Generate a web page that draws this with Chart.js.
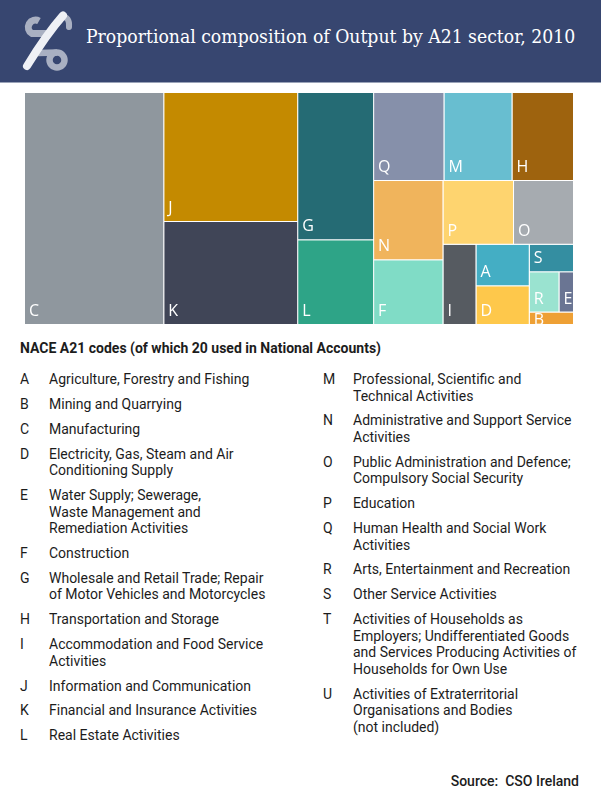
<!DOCTYPE html>
<html>
<head>
<meta charset="utf-8">
<script src="https://cdn.jsdelivr.net/npm/chart.js@4.4.1/dist/chart.umd.min.js"></script>
<style>
    body { margin: 0; width: 601px; height: 800px; background: #fff; font-family: Roboto, sans-serif; color: #1c1c1c; position: relative; overflow: hidden; }
    .header { position: absolute; left: 0; top: 0; width: 601px; height: 82px; background: #374670; border-bottom: 1px solid #9aa3b8; }
    .header svg { position: absolute; left: 0; top: 0; }
    .title { position: absolute; left: 86px; top: 26px; font-family: "DejaVu Serif", serif; font-stretch: condensed; font-size: 19.2px; line-height: 22px; color: #fff; white-space: nowrap; }
    .treemap { position: absolute; left: 25px; top: 93px; width: 549px; height: 232px; }
    .heading { position: absolute; left: 20px; top: 340px; font-size: 14px; font-weight: bold; line-height: 16.5px; }
    .col { position: absolute; top: 371px; font-size: 14px; line-height: 16.5px; }
    .item { display: flex; margin-bottom: 8.4px; }
    .code { flex: none; }
    .source { position: absolute; right: 22px; top: 773px; font-size: 14px; font-weight: 500; line-height: 16.5px; white-space: pre; }
</style>
</head>
<body>
<div class="header">
    <svg width="90" height="82" viewBox="0 0 90 82">
        <path d="M39 21 A6.5 6.5 0 1 0 32 33.5 L50 33.5" stroke="#a9b0c2" stroke-width="7" fill="none"/>
        <path d="M62 16.5 Q70 17 69 27" stroke="#a9b0c2" stroke-width="6" stroke-linecap="round" fill="none"/>
        <path d="M38 53 L57 52.5" stroke="#a9b0c2" stroke-width="6.5" fill="none"/>
        <circle cx="57" cy="60" r="7.5" stroke="#a9b0c2" stroke-width="6.5" fill="none"/>
        <path d="M63 15.5 C 52 28, 38 48, 27 66" stroke="#eef0f5" stroke-width="8" stroke-linecap="round" fill="none"/>
    </svg>
    <div class="title">Proportional composition of Output by A21 sector, 2010</div>
</div>
<div class="treemap"><canvas id="treemapChart"></canvas></div>
<div class="heading">NACE A21 codes (of which 20 used in National Accounts)</div>
<div class="col" id="legendLeft" style="left: 20px; width: 280px;"></div>
<div class="col" id="legendRight" style="left: 323px; width: 260px;"></div>
<div class="source">Source:  CSO Ireland</div>

<script>
// share of total output, %
const sectorCodes = ['C', 'J', 'K', 'G', 'L', 'Q', 'M', 'H', 'N', 'F', 'P', 'O', 'I', 'A', 'D', 'S', 'R', 'E', 'B'];
const outputShares = [25.36, 13.56, 10.83, 8.78, 5.05, 4.86, 4.70, 4.25, 4.32, 3.52, 3.53, 3.00, 2.08, 1.74, 1.62, 0.96, 0.94, 0.46, 0.43];
const sectorColours = ['#8f979e', '#c48a00', '#404557', '#256b74', '#2ea487', '#8690aa', '#68bed0', '#9e630e',
    '#f0b45c', '#80dcc6', '#fed46f', '#a6abb0', '#565b61', '#44aec4', '#fec84b', '#348ea1', '#9ae3d0', '#6a7593', '#eea035'];

// how the cells are grouped into strips, in drawing order
const strips = [['C'], ['J', 'K'], ['G', 'L'], ['Q', 'M', 'H'], ['N', 'F'], ['P', 'O'], ['I'], ['A', 'D'], ['S'], ['R', 'E'], ['B']];

const legendCodes = ['A', 'B', 'C', 'D', 'E', 'F', 'G', 'H', 'I', 'J', 'K', 'L',
    'M', 'N', 'O', 'P', 'Q', 'R', 'S', 'T', 'U'];
const legendNames = [
    ['Agriculture, Forestry and Fishing'],
    ['Mining and Quarrying'],
    ['Manufacturing'],
    ['Electricity, Gas, Steam and Air', 'Conditioning Supply'],
    ['Water Supply; Sewerage,', 'Waste Management and', 'Remediation Activities'],
    ['Construction'],
    ['Wholesale and Retail Trade; Repair', 'of Motor Vehicles and Motorcycles'],
    ['Transportation and Storage'],
    ['Accommodation and Food Service', 'Activities'],
    ['Information and Communication'],
    ['Financial and Insurance Activities'],
    ['Real Estate Activities'],
    ['Professional, Scientific and', 'Technical Activities'],
    ['Administrative and Support Service', 'Activities'],
    ['Public Administration and Defence;', 'Compulsory Social Security'],
    ['Education'],
    ['Human Health and Social Work', 'Activities'],
    ['Arts, Entertainment and Recreation'],
    ['Other Service Activities'],
    ['Activities of Households as', 'Employers; Undifferentiated Goods', 'and Services Producing Activities of', 'Households for Own Use'],
    ['Activities of Extraterritorial', 'Organisations and Bodies', '(not included)']
];

// Split the scale range into strips; a strip runs across the top when the
// remaining space is taller than wide, otherwise down the left side
function layoutStrips(labels, values, xScale, yScale) {
    let x0 = xScale.min, x1 = xScale.max, y0 = yScale.min, y1 = yScale.max;
    let remaining = values.reduce((a, b) => a + b, 0);
    const boxes = [];
    strips.forEach(function(strip) {
        const idx = strip.map(code => labels.indexOf(code));
        const sum = idx.reduce((a, i) => a + values[i], 0);
        const pxW = Math.abs(xScale.getPixelForValue(x1) - xScale.getPixelForValue(x0));
        const pxH = Math.abs(yScale.getPixelForValue(y1) - yScale.getPixelForValue(y0));
        if (pxW < pxH) {
            const yEnd = y0 + (y1 - y0) * sum / remaining;
            let cx = x0;
            idx.forEach(function(i) {
                const cw = (x1 - x0) * values[i] / sum;
                boxes[i] = { x0: cx, x1: cx + cw, y0: y0, y1: yEnd };
                cx += cw;
            });
            y0 = yEnd;
        } else {
            const xEnd = x0 + (x1 - x0) * sum / remaining;
            let cy = y0;
            idx.forEach(function(i) {
                const ch = (y1 - y0) * values[i] / sum;
                boxes[i] = { x0: x0, x1: xEnd, y0: cy, y1: cy + ch };
                cy += ch;
            });
            x0 = xEnd;
        }
        remaining -= sum;
    });
    return boxes;
}

class TreemapController extends Chart.DatasetController {
    static id = 'treemap';
    static defaults = {
        datasetElementType: false,
        dataElementType: 'bar'
    };
    static overrides = {
        scales: {
            x: { type: 'linear', display: false },
            y: { type: 'linear', display: false }
        }
    };

    update(mode) {
        const meta = this._cachedMeta;
        this.updateElements(meta.data, 0, meta.data.length, mode);
    }

    updateElements(cells, start, count, mode) {
        const xScale = this._cachedMeta.xScale;
        const yScale = this._cachedMeta.yScale;
        const values = this.getDataset().data;
        const boxes = layoutStrips(this.chart.data.labels, values, xScale, yScale);
        for (let i = start; i < start + count; i++) {
            const b = boxes[i];
            const left = xScale.getPixelForValue(b.x0);
            const right = xScale.getPixelForValue(b.x1);
            const top = yScale.getPixelForValue(b.y0);
            const bottom = yScale.getPixelForValue(b.y1);
            this.updateElement(cells[i], i, {
                x: (left + right) / 2,
                y: top,
                base: bottom,
                width: right - left,
                height: bottom - top,
                horizontal: false,
                inflateAmount: 0,
                borderSkipped: { top: true, left: true, bottom: false, right: false },
                options: this.resolveDataElementOptions(i, mode)
            }, mode);
        }
    }
}
Chart.register(TreemapController);

// Code letter in the bottom-left corner of every cell
const cellLabels = {
    id: 'cellLabels',
    afterDatasetsDraw(chart) {
        const ctx = chart.ctx;
        const meta = chart.getDatasetMeta(0);
        ctx.save();
        ctx.font = '16px "Open Sans"';
        ctx.fillStyle = '#ffffff';
        ctx.textBaseline = 'alphabetic';
        meta.data.forEach(function(cell, i) {
            const left = cell.x - cell.width / 2;
            const top = cell.y;
            const bottom = cell.base;
            ctx.save();
            ctx.beginPath();
            ctx.rect(left, top, cell.width - 1, bottom - top - 1);
            ctx.clip();
            const baseline = Math.max(bottom - 9, top + 12.5);
            ctx.fillText(chart.data.labels[i], left + 4, baseline);
            ctx.restore();
        });
        ctx.restore();
    }
};

new Chart(document.getElementById('treemapChart'), {
    type: 'treemap',
    data: {
        labels: sectorCodes,
        datasets: [{
            data: outputShares,
            backgroundColor: sectorColours,
            borderColor: '#ffffff',
            borderWidth: 1
        }]
    },
    options: {
        responsive: true,
        maintainAspectRatio: false,
        animation: false,
        events: [],
        layout: { padding: 0 },
        scales: {
            x: { type: 'linear', min: 0, max: 100, display: false },
            y: { type: 'linear', min: 0, max: 100, reverse: true, display: false }
        },
        plugins: {
            legend: { display: false },
            tooltip: { enabled: false }
        }
    },
    plugins: [cellLabels]
});

// Legend list of NACE codes
function buildLegend(el, from, to, codeWidth) {
    for (let i = from; i < to; i++) {
        const item = document.createElement('div');
        item.className = 'item';
        const code = document.createElement('div');
        code.className = 'code';
        code.style.width = codeWidth + 'px';
        code.textContent = legendCodes[i];
        const name = document.createElement('div');
        name.innerHTML = legendNames[i].join('<br>');
        item.appendChild(code);
        item.appendChild(name);
        el.appendChild(item);
    }
}
buildLegend(document.getElementById('legendLeft'), 0, 12, 29);
buildLegend(document.getElementById('legendRight'), 12, 21, 30);
</script>
</body>
</html>
